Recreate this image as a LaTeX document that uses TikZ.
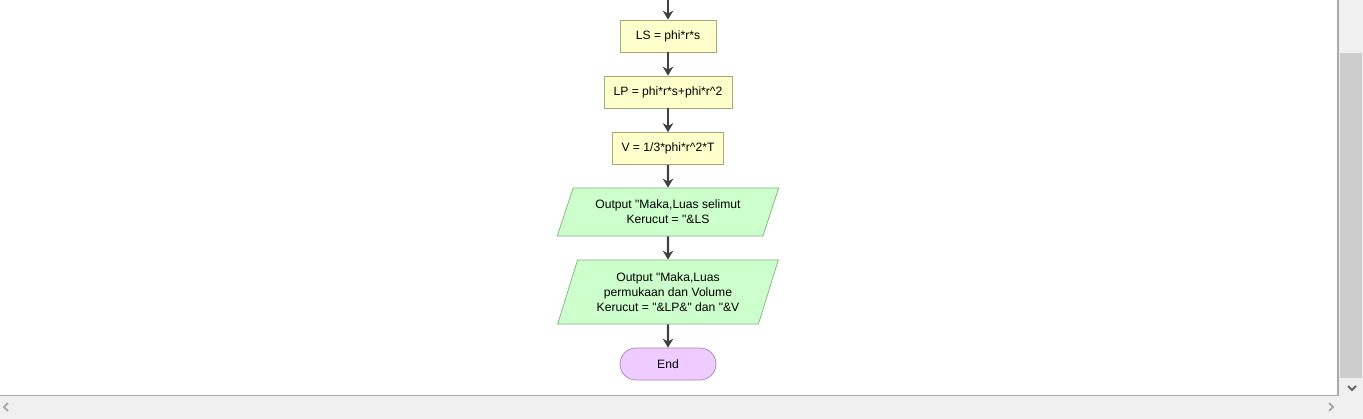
\documentclass[tikz,border=0pt]{standalone}
\usepackage{fontspec}
\setmainfont{Liberation Sans}[Ligatures=TeXOff]
\usepackage{xcolor}
\usetikzlibrary{shapes.geometric,arrows.meta}
\definecolor{procfill}{RGB}{255,255,204}
\definecolor{procline}{RGB}{168,168,112}
\definecolor{iofill}{RGB}{204,255,204}
\definecolor{ioline}{RGB}{128,176,128}
\definecolor{termfill}{RGB}{238,204,255}
\definecolor{termline}{RGB}{168,128,184}
\definecolor{arrowc}{RGB}{64,64,64}
\definecolor{trackc}{RGB}{240,240,240}
\definecolor{thumbc}{RGB}{205,205,205}
\definecolor{framec}{RGB}{170,170,170}

\begin{document}
\begin{tikzpicture}[x=0.02cm,y=-0.02cm,font=\fontsize{6.9}{8.5}\selectfont,
  proc/.style={draw=procline,fill=procfill,align=center,inner sep=0pt,minimum height=0.64cm},
  io/.style={trapezium,trapezium stretches=true,trapezium left angle=63,trapezium right angle=117,draw=ioline,fill=iofill,align=center,inner sep=0pt,minimum width=4.46cm},
  term/.style={draw=termline,fill=termfill,rounded corners=0.32cm,minimum width=1.92cm,minimum height=0.64cm},
  flow/.style={-{Stealth[length=0.18cm,width=0.21cm]},line width=0.045cm,draw=arrowc}]
  \useasboundingbox (0,0) rectangle (1363,419);
  % window frame and scroll bars
  \fill[white] (0,0) rectangle (1363,419);
  \fill[trackc] (1339,0) rectangle (1363,419);
  \fill[trackc] (0,396) rectangle (1363,419);
  \fill[thumbc] (1340,53) rectangle (1362,378);
  \draw[framec,line width=0.03cm] (1338,0) -- (1338,395.5) -- (0,395.5);
  \draw[arrowc!80,line width=0.04cm] (1348,386) -- (1352,390) -- (1356,386);
  \draw[framec,line width=0.04cm] (8,403) -- (4,407) -- (8,411);
  \draw[framec,line width=0.04cm] (1329,403) -- (1333,407) -- (1329,411);
  % flowchart
  \coordinate (entry) at (668,0);
  \node[proc,minimum width=1.92cm] (ls)    at (668,36)    {LS = phi*r*s};
  \node[proc,minimum width=2.56cm] (lp)    at (668,92)    {LP = phi*r*s+phi*r\textasciicircum2};
  \node[proc,minimum width=2.22cm] (vol)   at (668,148.5) {V = 1/3*phi*r\textasciicircum2*T};
  \node[io,minimum height=0.96cm]  (outls) at (668,212) {Output "Maka,Luas selimut\\Kerucut = "\&LS};
  \node[io,minimum height=1.28cm,trapezium left angle=68,trapezium right angle=112]
                                   (outlv) at (668,292) {Output "Maka,Luas\\permukaan dan Volume\\Kerucut = "\&LP\&" dan "\&V};
  \node[term] (fin) at (668,364) {End};
  \draw[flow] (entry) -- (ls);
  \draw[flow] (ls) -- (lp);
  \draw[flow] (lp) -- (vol);
  \draw[flow] (vol) -- (outls);
  \draw[flow] (outls) -- (outlv);
  \draw[flow] (outlv) -- (fin);
\end{tikzpicture}
\end{document}
